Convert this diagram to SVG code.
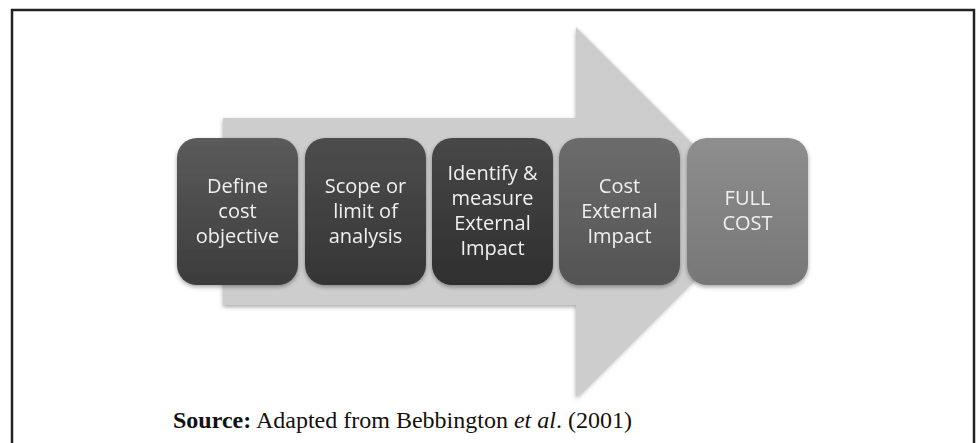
<svg xmlns="http://www.w3.org/2000/svg" width="976" height="443" viewBox="0 0 976 443">
  <defs>
    <linearGradient id="g1" x1="0" y1="0" x2="0" y2="1">
      <stop offset="0" stop-color="#5b5b5b"/>
      <stop offset="1" stop-color="#3c3c3c"/>
    </linearGradient>
    <linearGradient id="g2" x1="0" y1="0" x2="0" y2="1">
      <stop offset="0" stop-color="#4d4d4d"/>
      <stop offset="1" stop-color="#353535"/>
    </linearGradient>
    <linearGradient id="g3" x1="0" y1="0" x2="0" y2="1">
      <stop offset="0" stop-color="#474747"/>
      <stop offset="1" stop-color="#2f2f2f"/>
    </linearGradient>
    <linearGradient id="g4" x1="0" y1="0" x2="0" y2="1">
      <stop offset="0" stop-color="#6c6c6c"/>
      <stop offset="1" stop-color="#545454"/>
    </linearGradient>
    <linearGradient id="g5" x1="0" y1="0" x2="0" y2="1">
      <stop offset="0" stop-color="#8e8e8e"/>
      <stop offset="1" stop-color="#777777"/>
    </linearGradient>
    <filter id="shadow" x="-10%" y="-10%" width="120%" height="125%">
      <feDropShadow dx="0" dy="2" stdDeviation="2" flood-color="#000" flood-opacity="0.35"/>
    </filter>
  </defs>
  <style>
    .frame { fill: none; stroke: #222; stroke-width: 2.5; }
    .arrow { fill: #cdcdcd; }
    .box { filter: url(#shadow); }
    .label { font-family: "Open Sans", "Liberation Sans", sans-serif; font-size: 20px; fill: #f0f0f0; text-anchor: middle; }
    .source { font-family: "Liberation Serif", "Times New Roman", serif; font-size: 23.5px; fill: #111; }
  </style>

  <!-- outer frame, open at the bottom -->
  <path class="frame" d="M12,443 V10 H974 V443"/>

  <!-- big background arrow -->
  <g id="connectors">
    <polygon class="arrow" filter="url(#shadow)" points="223,118 576,118 576,27 761,212 576,397 576,305 223,305"/>
  </g>

  <g id="step1" class="box">
    <rect x="177" y="138" width="121" height="147" rx="20" fill="url(#g1)"/>
    <text class="label" x="237.5" y="193">Define</text>
    <text class="label" x="237.5" y="218">cost</text>
    <text class="label" x="237.5" y="243">objective</text>
  </g>

  <g id="step2" class="box">
    <rect x="305" y="138" width="121" height="147" rx="20" fill="url(#g2)"/>
    <text class="label" x="365.5" y="193">Scope or</text>
    <text class="label" x="365.5" y="218">limit of</text>
    <text class="label" x="365.5" y="243">analysis</text>
  </g>

  <g id="step3" class="box">
    <rect x="432" y="138" width="121" height="147" rx="20" fill="url(#g3)"/>
    <text class="label" x="492.5" y="180">Identify &amp;</text>
    <text class="label" x="492.5" y="205">measure</text>
    <text class="label" x="492.5" y="230">External</text>
    <text class="label" x="492.5" y="255">Impact</text>
  </g>

  <g id="step4" class="box">
    <rect x="559" y="138" width="121" height="147" rx="20" fill="url(#g4)"/>
    <text class="label" x="619.5" y="193">Cost</text>
    <text class="label" x="619.5" y="218">External</text>
    <text class="label" x="619.5" y="243">Impact</text>
  </g>

  <g id="step5" class="box">
    <rect x="687" y="138" width="121" height="147" rx="20" fill="url(#g5)"/>
    <text class="label" x="747.5" y="205">FULL</text>
    <text class="label" x="747.5" y="230">COST</text>
  </g>

  <text class="source" x="173" y="428" textLength="459" lengthAdjust="spacingAndGlyphs"><tspan font-weight="bold">Source:</tspan> Adapted from Bebbington <tspan font-style="italic">et al</tspan>. (2001)</text>
</svg>
